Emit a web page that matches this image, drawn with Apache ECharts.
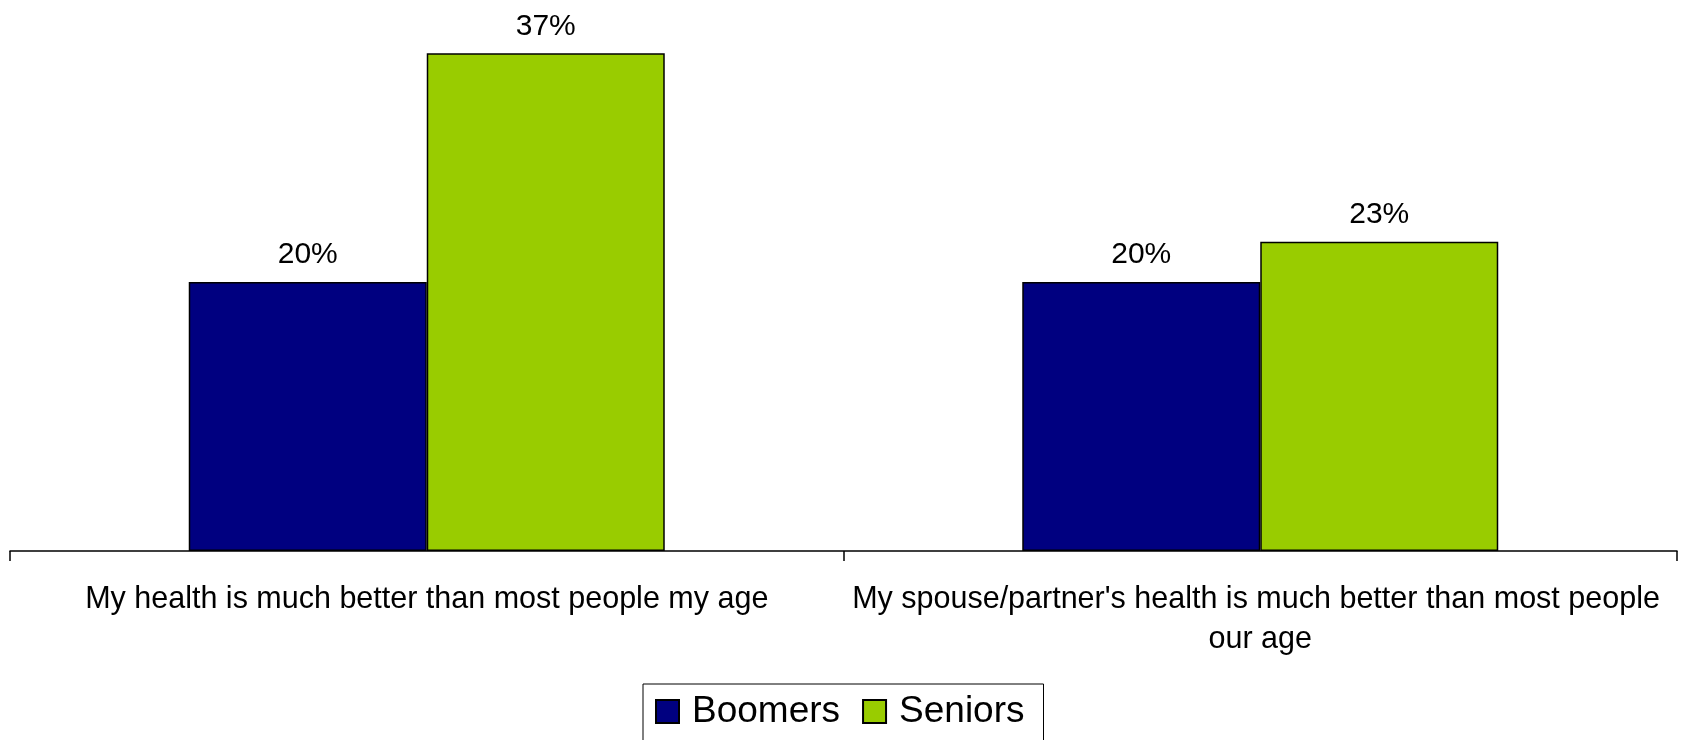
<!DOCTYPE html>
<html>
<head>
<meta charset="utf-8">
<script src="https://cdn.jsdelivr.net/npm/echarts@6/dist/echarts.min.js"></script>
<style>
html,body{margin:0;padding:0;background:#fff;}
#chart{width:1684px;height:740px;}
</style>
</head>
<body>
<div id="chart"></div>
<script>
const categories = [
  "My health is much better than most people my age",
  "My spouse/partner's health is much better than most people our age"
];
const boomers = [20, 20];
const seniors = [37, 23];
const seriesNames = ["Boomers", "Seniors"];

const FONT = "'Liberation Sans', Arial, sans-serif";
const chart = echarts.init(document.getElementById('chart'));
const labelOpt = {
  show: true,
  position: 'top',
  distance: 12,
  formatter: '{c}%',
  color: '#000',
  fontSize: 30,
  fontFamily: FONT
};
chart.setOption({
  animation: false,
  backgroundColor: '#fff',
  grid: { left: 10, right: 7, top: 13, bottom: 189, containLabel: false },
  legend: {
    left: 643,
    top: 684,
    padding: [9, 19, 40, 12],
    borderColor: '#000',
    borderWidth: 1,
    itemWidth: 23,
    itemHeight: 23,
    itemGap: 22,
    icon: 'rect',
    textStyle: { fontSize: 37, fontFamily: FONT, color: '#000', padding: [0, 0, 0, 8] },
    data: seriesNames
  },
  xAxis: {
    type: 'category',
    data: categories,
    axisLine: { lineStyle: { color: '#000', width: 1.5 } },
    axisTick: { show: true, length: 10, lineStyle: { color: '#000', width: 1.5 } },
    axisLabel: {
      interval: 0,
      margin: 29,
      color: '#000',
      fontSize: 30.5,
      fontFamily: FONT,
      lineHeight: 40,
      width: 820,
      overflow: 'break'
    }
  },
  yAxis: {
    type: 'value',
    min: 0,
    max: 40,
    show: false,
    splitLine: { show: false }
  },
  series: [
    {
      name: seriesNames[0],
      type: 'bar',
      data: boomers,
      barWidth: 238,
      barGap: '0%',
      itemStyle: { color: '#000080', borderColor: '#000', borderWidth: 1.5 },
      label: labelOpt
    },
    {
      name: seriesNames[1],
      type: 'bar',
      data: seniors,
      barWidth: 238,
      barGap: '0%',
      itemStyle: { color: '#99CC00', borderColor: '#000', borderWidth: 1.5 },
      label: labelOpt
    }
  ]
});
</script>
</body>
</html>
